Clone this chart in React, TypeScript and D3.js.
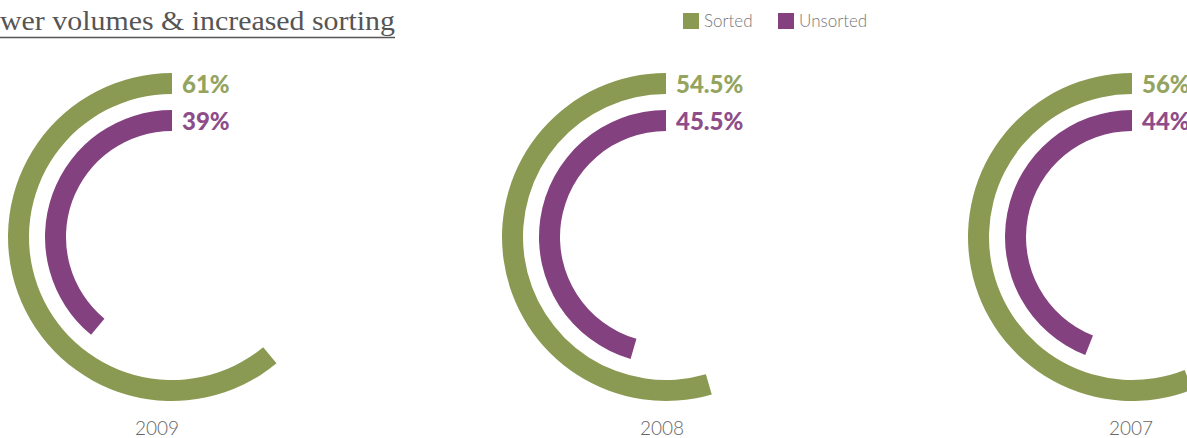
import React from 'react';
import * as d3 from 'd3';

const years = ['2009', '2008', '2007'];
const sortedPct = [61, 54.5, 56];
const unsortedPct = [39, 45.5, 44];
const seriesNames = ['Sorted', 'Unsorted'];
const titleText = 'wer volumes & increased sorting';

const W = 1187;
const H = 438;
const ringColors = ['#8a9a52', '#84417f'];
const textColors = ['#94a45f', '#8e4d89'];
const centersX = [172, 666, 1132];
const yearLabelX = [157, 662, 1131];
const cy = 237;
const rings = [
  { inner: 143, outer: 164 },
  { inner: 106, outer: 127 },
];

export default function App() {
  const angle = d3.scaleLinear().domain([0, 100]).range([0, -2 * Math.PI]);
  const arcGen = d3.arc<any>();
  const font = "'Lato', 'Open Sans', sans-serif";
  return (
    <svg width={W} height={H} style={{ position: 'absolute', left: 0, top: 0, background: '#fff' }}>
      <text x={0} y={30} fontFamily="'Liberation Serif', serif" fontSize={28} fill="#555" textLength={395} lengthAdjust="spacingAndGlyphs">
        {titleText}
      </text>
      <line x1={0} x2={395} y1={37.5} y2={37.5} stroke="#555" strokeWidth={1.5} />
      {seriesNames.map((name, i) => {
        const x0 = i === 0 ? 683 : 778;
        return (
          <g key={name}>
            <rect x={x0} y={13} width={16} height={16} fill={ringColors[i]} />
            <text x={x0 + 21} y={27} fontFamily={font} fontWeight={300} fontSize={17} fill="#777">
              {name}
            </text>
          </g>
        );
      })}
      {years.map((yr, k) => {
        const vals = [sortedPct[k], unsortedPct[k]];
        const cx = centersX[k];
        return (
          <g key={yr}>
            <g transform={`translate(${cx},${cy})`}>
              {vals.map((v, i) => (
                <path
                  key={i}
                  d={arcGen({
                    innerRadius: rings[i].inner,
                    outerRadius: rings[i].outer,
                    startAngle: 0,
                    endAngle: angle(v),
                  }) as string}
                  fill={ringColors[i]}
                />
              ))}
              {vals.map((v, i) => (
                <text
                  key={'t' + i}
                  x={10}
                  y={-(rings[i].inner + rings[i].outer) / 2 + 9}
                  fontFamily={font}
                  fontWeight={900}
                  fontSize={24}
                  fill={textColors[i]}
                >
                  {`${v}%`}
                </text>
              ))}
            </g>
            <text x={yearLabelX[k]} y={435} textAnchor="middle" fontFamily={font} fontWeight={300} fontSize={19} fill="#666">
              {yr}
            </text>
          </g>
        );
      })}
    </svg>
  );
}
